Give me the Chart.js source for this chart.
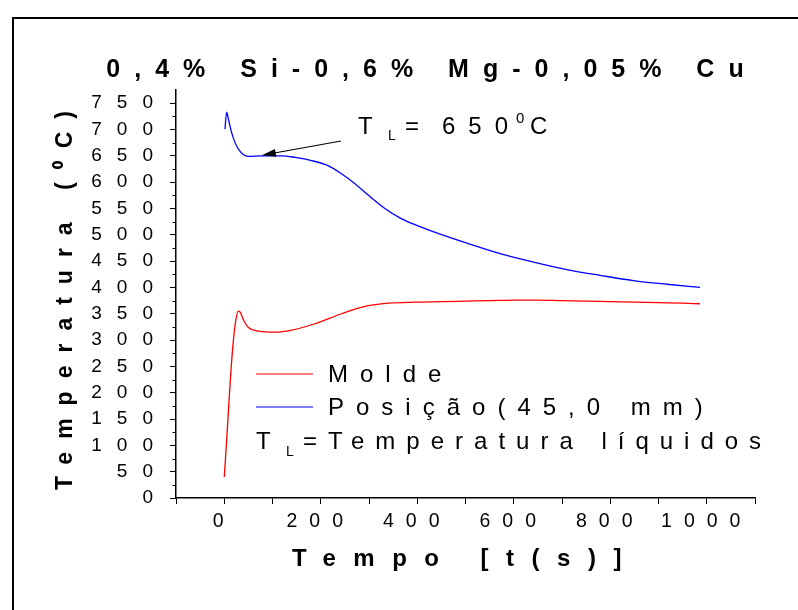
<!DOCTYPE html>
<html><head><meta charset="utf-8">
<script src="https://cdn.jsdelivr.net/npm/chart.js@4.4.1/dist/chart.umd.min.js"></script>
<style>html,body{margin:0;padding:0;background:#fff;}#wrap{width:798px;height:610px;}</style>
</head><body><div id="wrap"><canvas id="c" width="798" height="610"></canvas></div>
<script>
// ---- data ----
const titleText = '0,4% Si-0,6% Mg-0,05% Cu';
const xTitle = 'Tempo [t(s)]';
const yTitle = 'Temperatura (\u2070C)';
const seriesNames = ['Molde', 'Posição(45,0 mm)'];
const noteParts = ['T', 'L', '=', 'Temperatura líquidos'];
const annotParts = ['T', 'L', '=', '650', '0', 'C'];
const annotPoint = [78, 650];
const xTickLabels = ['0', '200', '400', '600', '800', '1000'];
const moldeTime = [0, 5, 10, 14, 19, 24, 29, 33, 40, 50, 71, 105, 140, 188, 243, 292, 340, 395, 450, 500, 550, 606, 650, 700, 750, 800, 850, 900, 950, 986];
const moldeTemp = [40, 110, 186, 243, 300, 338, 355, 353, 338, 324, 317, 315, 319, 331, 350, 364, 370, 372, 373, 374, 375, 376, 376, 375, 374, 373, 372, 371, 370, 369];
const posTime = [1.5, 5, 8.5, 15, 22, 29, 40, 50, 78, 119, 147, 181, 216, 243, 271, 299, 333, 364, 390, 433, 503, 572, 641, 710, 779, 848, 917, 986];
const posTemp = [701, 733, 720, 695, 676, 663, 652, 649, 650, 650, 647, 641, 631, 616, 597, 575, 550, 532, 521, 506, 484, 464, 448, 434, 423, 413, 406, 400];

// ---- letter spacing hook (spacing keyed by font size) ----
const canvas = document.getElementById('c');
const ctx = canvas.getContext('2d');
const fontDesc = Object.getOwnPropertyDescriptor(CanvasRenderingContext2D.prototype, 'font');
const spacingBySize = {'25': '14px', '24': '17.5px', '23': '13px', '19': '15px', '19.5': '12px'};
Object.defineProperty(ctx, 'font', {
  configurable: true,
  get() { return fontDesc.get.call(this); },
  set(v) {
    fontDesc.set.call(this, v);
    const m = /(\d+(?:\.\d+)?)px/.exec(v);
    this.letterSpacing = (m && spacingBySize[m[1]]) || '0px';
  }
});

const FAM = '"Liberation Sans", Arial, sans-serif';

const decor = {
  id: 'decor',
  beforeDraw(chart) {
    const c = chart.ctx;
    c.save();
    c.strokeStyle = '#000';
    c.lineWidth = 2;
    c.beginPath();
    c.moveTo(13, 610); c.lineTo(13, 18); c.lineTo(798, 18);
    c.stroke();
    c.restore();
  },
  afterDraw(chart) {
    const c = chart.ctx;
    const xs = chart.scales.x, ys = chart.scales.y;
    const left = chart.chartArea.left;
    c.save();
    // minor ticks on y
    c.strokeStyle = '#000'; c.lineWidth = 1;
    for (let v = 25; v < ys.max; v += 50) {
      const py = Math.round(ys.getPixelForValue(v)) + 0.5;
      c.beginPath(); c.moveTo(left - 3.5, py); c.lineTo(left, py); c.stroke();
    }
    // legend
    const ds = chart.data.datasets;
    const rows = [374, 407];
    c.textBaseline = 'middle'; c.textAlign = 'left';
    ds.forEach((d, i) => {
      c.strokeStyle = d.borderColor; c.lineWidth = 1.2;
      c.beginPath(); c.moveTo(256, rows[i]); c.lineTo(313, rows[i]); c.stroke();
      c.fillStyle = '#000';
      c.font = '24px ' + FAM; c.letterSpacing = '12px';
      c.fillText(d.label, 328, rows[i] + 1);
    });
    // note line
    c.fillStyle = '#000';
    c.font = '24px ' + FAM; c.letterSpacing = '0px';
    c.fillText(noteParts[0], 256, 442);
    c.font = '14px ' + FAM; c.letterSpacing = '0px';
    c.fillText(noteParts[1], 286, 452);
    c.font = '24px ' + FAM; c.letterSpacing = '0px';
    c.fillText(noteParts[2], 303, 442);
    c.letterSpacing = '11px';
    c.fillText(noteParts[3], 328, 442);
    // annotation
    c.font = '24px ' + FAM; c.letterSpacing = '0px';
    c.fillText(annotParts[0], 358, 127);
    c.font = '14px ' + FAM;
    c.fillText(annotParts[1], 388, 136);
    c.font = '24px ' + FAM;
    c.fillText(annotParts[2], 405, 127);
    c.letterSpacing = '13px';
    c.fillText(annotParts[3], 442, 127);
    c.font = '15px ' + FAM; c.letterSpacing = '0px';
    c.fillText(annotParts[4], 516, 119);
    c.font = '24px ' + FAM;
    c.fillText(annotParts[5], 530, 127);
    // arrow
    const tx = xs.getPixelForValue(annotPoint[0]);
    const ty = ys.getPixelForValue(annotPoint[1]) - 0.5;
    const sx = 341, sy = 141;
    const ang = Math.atan2(ty - sy, tx - sx);
    c.strokeStyle = '#000'; c.lineWidth = 1.2;
    c.beginPath(); c.moveTo(sx, sy); c.lineTo(tx - 10 * Math.cos(ang), ty - 10 * Math.sin(ang)); c.stroke();
    c.fillStyle = '#000';
    c.beginPath();
    c.moveTo(tx, ty);
    c.lineTo(tx - 14 * Math.cos(ang) + 4 * Math.sin(ang), ty - 14 * Math.sin(ang) - 4 * Math.cos(ang));
    c.lineTo(tx - 14 * Math.cos(ang) - 4 * Math.sin(ang), ty - 14 * Math.sin(ang) + 4 * Math.cos(ang));
    c.closePath(); c.fill();
    c.restore();
  }
};

const toXY = (ts, vs) => ts.map((t, i) => ({x: t, y: vs[i]}));

new Chart(ctx, {
  type: 'line',
  data: {
    datasets: [
      {label: seriesNames[0], data: toXY(moldeTime, moldeTemp), borderColor: '#ff0000', borderWidth: 1.3, pointRadius: 0, cubicInterpolationMode: 'monotone', fill: false},
      {label: seriesNames[1], data: toXY(posTime, posTemp), borderColor: '#0000ff', borderWidth: 1.3, pointRadius: 0, cubicInterpolationMode: 'monotone', fill: false}
    ]
  },
  options: {
    responsive: false,
    animation: false,
    devicePixelRatio: 1,
    layout: {padding: {left: 13, right: -53, top: 0, bottom: 0}},
    plugins: {
      legend: {display: false},
      tooltip: {enabled: false},
      title: {display: true, text: titleText, color: '#000', font: {family: FAM, size: 25, weight: 'bold', lineHeight: 1.2}, padding: {top: 55, bottom: 5}}
    },
    scales: {
      x: {
        type: 'linear', min: -100, max: 1100,
        afterFit(s) { s.height = 112; },
        border: {display: true, color: '#000', width: 1.5},
        grid: {display: true, drawOnChartArea: false, drawTicks: true, tickLength: 6, tickColor: '#000', tickWidth: 1},
        ticks: {stepSize: 100, autoSkip: false, maxRotation: 0, color: '#000', padding: 6, font: {family: FAM, size: 19.5},
          callback: (v) => xTickLabels.includes(String(v)) ? String(v) : ''},
        title: {display: true, text: xTitle, color: '#000', font: {family: FAM, size: 24, weight: 'bold', lineHeight: 1.2}, padding: {top: 0, bottom: 36}}
      },
      y: {
        type: 'linear', min: 0, max: 775,
        afterFit(s) { s.width = 163; },
        border: {display: true, color: '#000', width: 1.5},
        grid: {display: true, drawOnChartArea: false, drawTicks: true, tickLength: 6, tickColor: '#000', tickWidth: 1},
        ticks: {stepSize: 50, includeBounds: false, autoSkip: false, color: '#000', padding: 2, font: {family: FAM, size: 19}},
        title: {display: true, text: yTitle, color: '#000', font: {family: FAM, size: 23, weight: 'bold', lineHeight: 1.2}, padding: {top: 39, bottom: 0}}
      },
      yPad: {
        type: 'linear', position: 'right', min: 0, max: 775,
        afterFit(s) { s.width = 96; },
        border: {display: false},
        grid: {display: false},
        ticks: {display: false},
        title: {display: false}
      }
    }
  },
  plugins: [decor]
});
</script></body></html>
